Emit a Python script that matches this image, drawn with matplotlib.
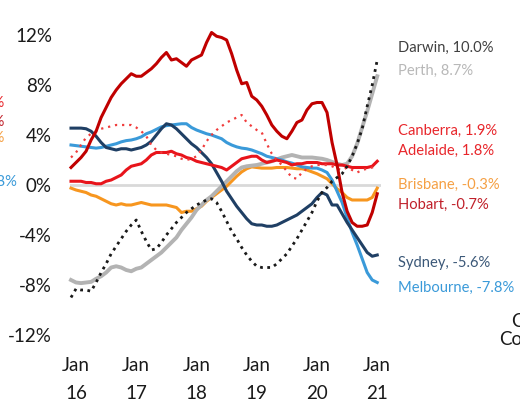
import matplotlib.pyplot as plt

plt.rcParams['font.family'] = ['Lato', 'DejaVu Sans']

# monthly, Dec 2015 (index 0) to Jan 2021 (index 61)
months = list(range(62))
tick_pos = [1, 13, 25, 37, 49, 61]
tick_labels = ['Jan\n16', 'Jan\n17', 'Jan\n18', 'Jan\n19', 'Jan\n20', 'Jan\n21']

hobart = [1.4, 1.8, 2.2, 2.7, 3.6, 4.3, 5.4, 6.2, 7.0, 7.6, 8.1, 8.5, 8.9, 8.7, 8.7, 9.0,
          9.3, 9.7, 10.2, 10.6, 10.0, 10.1, 9.8, 9.5, 10.0, 10.2, 10.4, 11.4, 12.2, 11.9, 11.8,
          11.6, 10.5, 9.2, 8.1, 8.2, 7.1, 6.8, 6.3, 5.6, 4.8, 4.3, 3.9, 3.7, 4.3, 5.0, 5.2,
          6.0, 6.5, 6.6, 6.6, 5.8, 3.4, 1.6, -0.6, -2.1, -3.0, -3.3, -3.3, -3.2, -2.2, -0.7]
canberra = [0.3, 0.3, 0.3, 0.2, 0.2, 0.1, 0.1, 0.3, 0.4, 0.6, 0.8, 1.2, 1.5, 1.6, 1.7, 2.0,
            2.4, 2.6, 2.6, 2.6, 2.7, 2.5, 2.4, 2.2, 2.1, 1.9, 1.8, 1.7, 1.6, 1.5, 1.4,
            1.2, 1.5, 1.8, 2.1, 2.2, 2.3, 2.3, 2.0, 1.8, 1.9, 2.0, 1.9, 1.8, 1.6, 1.7, 1.7,
            1.8, 1.8, 1.8, 1.7, 1.7, 1.7, 1.6, 1.6, 1.5, 1.4, 1.4, 1.4, 1.4, 1.5, 1.9]
adelaide = [2.2, 2.6, 3.2, 3.8, 4.1, 4.3, 4.5, 4.6, 4.7, 4.8, 4.8, 4.8, 4.8, 4.6, 4.3, 3.9,
            3.2, 2.8, 2.6, 2.5, 2.4, 2.3, 2.1, 2.0, 2.1, 2.3, 2.8, 3.5, 4.0, 4.4, 4.7,
            5.0, 5.2, 5.4, 5.6, 5.0, 4.7, 4.4, 4.2, 3.3, 2.5, 2.0, 1.6, 1.1, 0.6, 0.5, 1.0,
            1.3, 1.5, 1.6, 1.6, 1.6, 1.5, 1.3, 1.2, 1.4, 1.2, 1.0, 1.2, 1.3, 1.4, 1.6]
sydney = [4.55, 4.55, 4.55, 4.5, 4.3, 3.9, 3.4, 3.0, 2.9, 2.8, 2.9, 2.9, 2.8, 2.9, 3.0, 3.2,
          3.5, 4.0, 4.5, 4.9, 4.8, 4.5, 4.1, 3.7, 3.3, 3.0, 2.6, 2.2, 1.7, 1.0, 0.3,
          -0.5, -1.1, -1.7, -2.2, -2.7, -3.1, -3.2, -3.2, -3.3, -3.3, -3.2, -3.0, -2.8, -2.6, -2.4, -2.1,
          -1.8, -1.5, -1.0, -0.6, -0.8, -1.6, -1.6, -2.3, -3.0, -3.6, -4.2, -4.8, -5.4, -5.7, -5.6]
melbourne = [3.2, 3.15, 3.1, 3.05, 3.0, 2.95, 3.0, 3.1, 3.2, 3.3, 3.45, 3.55, 3.6, 3.7, 3.85, 4.1,
             4.25, 4.45, 4.65, 4.75, 4.8, 4.85, 4.9, 4.9, 4.6, 4.4, 4.25, 4.1, 4.0, 3.85, 3.7,
             3.4, 3.2, 3.05, 2.95, 2.9, 2.8, 2.65, 2.5, 2.3, 2.2, 2.1, 2.0, 1.85, 1.75, 1.6, 1.45,
             1.4, 1.35, 1.35, 1.2, 1.0, 0.4, -0.5, -1.4, -2.6, -3.8, -4.8, -5.9, -7.0, -7.6, -7.8]
brisbane = [-0.25, -0.4, -0.5, -0.6, -0.8, -0.9, -1.1, -1.3, -1.5, -1.6, -1.5, -1.6, -1.6, -1.5, -1.4, -1.5,
            -1.6, -1.6, -1.6, -1.6, -1.7, -1.8, -2.2, -2.1, -2.1, -1.9, -1.7, -1.3, -1.0, -0.7, -0.4,
            -0.1, 0.3, 0.7, 1.05, 1.3, 1.45, 1.4, 1.35, 1.35, 1.35, 1.4, 1.4, 1.4, 1.35, 1.3, 1.3,
            1.2, 1.05, 0.9, 0.7, 0.5, 0.1, -0.3, -0.6, -1.0, -1.2, -1.2, -1.2, -1.2, -1.0, -0.25]
perth = [-7.6, -7.8, -7.85, -7.8, -7.75, -7.5, -7.3, -7.0, -6.6, -6.5, -6.6, -6.8, -6.9, -6.7, -6.6, -6.3,
         -6.0, -5.7, -5.4, -5.0, -4.6, -4.2, -3.6, -3.1, -2.6, -2.0, -1.6, -1.2, -0.9, -0.5, -0.1,
         0.3, 0.7, 1.1, 1.4, 1.5, 1.55, 1.6, 1.7, 1.8, 1.9, 2.05, 2.2, 2.3, 2.4, 2.3, 2.2,
         2.2, 2.2, 2.15, 2.1, 2.0, 1.85, 1.7, 1.6, 1.7, 2.3, 3.3, 4.6, 5.9, 7.3, 8.7]
darwin = [-9.0, -8.3, -8.4, -8.4, -8.5, -7.8, -7.0, -6.3, -5.5, -4.9, -4.3, -3.7, -3.2, -2.8, -3.7, -4.5,
          -5.2, -5.1, -4.6, -4.0, -3.5, -3.0, -2.6, -2.2, -1.9, -1.6, -1.4, -1.2, -1.1, -1.4, -2.1,
          -2.9, -3.7, -4.3, -5.0, -5.6, -6.1, -6.5, -6.6, -6.6, -6.6, -6.3, -5.9, -5.5, -4.9, -4.3, -3.6,
          -2.9, -2.2, -1.3, -0.6, -0.2, 0.3, 0.6, 0.9, 1.5, 2.3, 3.3, 4.5, 6.3, 8.0, 10.0]

labels = ['Darwin, 10.0%', 'Perth, 8.7%', 'Canberra, 1.9%', 'Adelaide, 1.8%',
          'Brisbane, -0.3%', 'Hobart, -0.7%', 'Sydney, -5.6%', 'Melbourne, -7.8%']
label_y = [10.96, 9.12, 4.32, 2.72, 0.0, -1.6, -6.24, -8.24]
label_colors = ['#404040', '#b8b8b8', '#e8262b', '#e8262b',
                '#f5a044', '#c0202a', '#3b5878', '#3a9ad9']

fig = plt.figure(figsize=(5.2, 4.01), dpi=100)
ax = fig.add_axes([70 / 520, 66 / 401, 311 / 520, 300 / 401])

ax.axhline(0, color='#d9d9d9', lw=2, zorder=1)
ax.plot(months, brisbane, color='#f7961f', lw=2.2, zorder=2, clip_on=False)
ax.plot(months, perth, color='#b3b3b3', lw=2.8, zorder=3, clip_on=False)
ax.plot(months, melbourne, color='#3a9ad9', lw=2.2, zorder=4, clip_on=False)
ax.plot(months, sydney, color='#1f3f64', lw=2.2, zorder=5, clip_on=False)
ax.plot(months, canberra, color='#e8141b', lw=2.2, zorder=6, clip_on=False)
ax.plot(months, adelaide, color='#f03c3c', lw=1.6, ls=(0, (1, 2.2)), zorder=6, clip_on=False)
ax.plot(months, hobart, color='#c00000', lw=2.2, zorder=7, clip_on=False)
ax.plot(months, darwin, color='#1a1a1a', lw=2.0, ls=(0, (1, 1.6)), zorder=8, clip_on=False)

ax.set_xlim(-0.2, 61.75)
ax.set_ylim(-12, 12)
ax.set_yticks([-12, -8, -4, 0, 4, 8, 12])
ax.set_yticklabels(['-12%', '-8%', '-4%', '0%', '4%', '8%', '12%'])
ax.set_xticks(tick_pos)
ax.set_xticklabels(tick_labels, linespacing=1.75)
ax.tick_params(length=0, labelsize=13.5, colors='#1a1a1a')
ax.tick_params(axis='y', pad=13)
ax.tick_params(axis='x', pad=16)
for s in ax.spines.values():
    s.set_visible(False)

for txt, yv, c in zip(labels, label_y, label_colors):
    ax.text(65.1, yv, txt, color=c, fontsize=10.6, va='center', ha='left', clip_on=False)

# bits of neighbouring charts cut off at the edges
fig.text(5 / 520, 1 - 103 / 401, '2.1%', color='#e8262b', fontsize=10.6, ha='right', va='center')
fig.text(5 / 520, 1 - 122 / 401, '1.3%', color='#c0202a', fontsize=10.6, ha='right', va='center')
fig.text(5 / 520, 1 - 138 / 401, '0.4%', color='#f5a044', fontsize=10.6, ha='right', va='center')
fig.text(17 / 520, 1 - 182 / 401, '-0.8%', color='#3a9ad9', fontsize=10.6, ha='right', va='center')
fig.text(511 / 520, 1 - 321 / 401, 'Change', color='#1a1a1a', fontsize=13.5, ha='left', va='center')
fig.text(499 / 520, 1 - 340 / 401, 'CoreLogic', color='#1a1a1a', fontsize=13.5, ha='left', va='center')

fig.savefig('out.png', dpi=100)
